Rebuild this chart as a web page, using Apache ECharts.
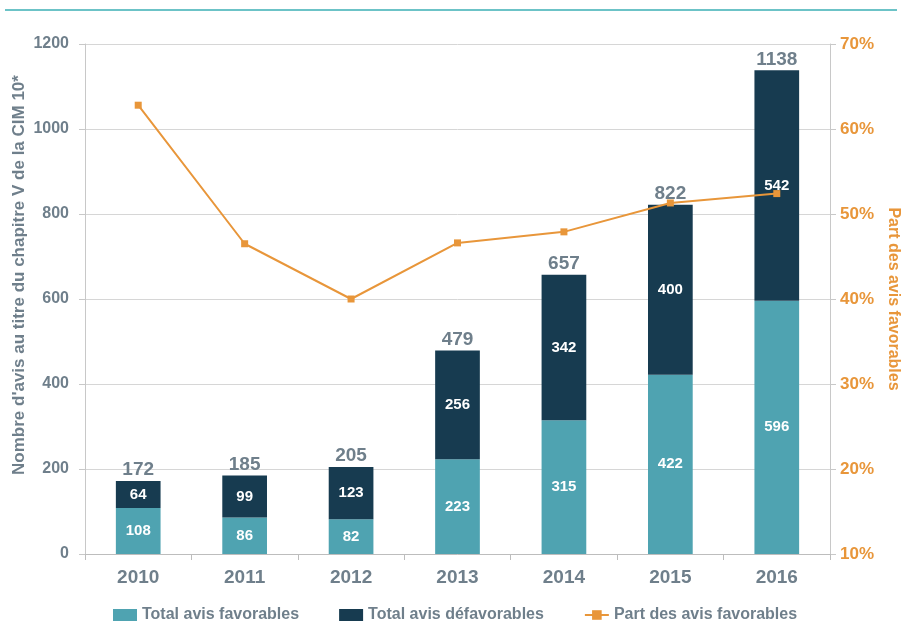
<!DOCTYPE html>
<html><head><meta charset="utf-8">
<script src="https://cdn.jsdelivr.net/npm/echarts@6/dist/echarts.min.js"></script>
<style>html,body{margin:0;padding:0;background:#fff}#c{width:903px;height:642px}</style>
</head><body><div id="c"></div>
<script>
const years = ['2010','2011','2012','2013','2014','2015','2016'];
const favorables = [108, 86, 82, 223, 315, 422, 596];
const defavorables = [64, 99, 123, 256, 342, 400, 542];
const totals = [172, 185, 205, 479, 657, 822, 1138];
const partFavorables = [62.8, 46.5, 40.0, 46.6, 47.9, 51.3, 52.4];
const leftAxisTitle = "Nombre d'avis au titre du chapitre V de la CIM 10*";
const rightAxisTitle = 'Part des avis favorables';

const FONT = '"Liberation Sans", Arial, sans-serif';
const GRAY = '#6f7f8b';
const ORANGE = '#e8963a';
const chart = echarts.init(document.getElementById('c'));
chart.setOption({
  animation: false,
  textStyle: { fontFamily: FONT },
  graphic: [
    { type: 'line', shape: { x1: 5, y1: 10, x2: 897, y2: 10 }, style: { stroke: '#6cc3c7', lineWidth: 2 } },
    { type: 'text', x: 19, y: 275, rotation: Math.PI / 2,
      style: { text: leftAxisTitle, fill: GRAY, font: 'bold 17px ' + FONT, align: 'center', verticalAlign: 'middle' } }
  ],
  grid: { left: 85, right: 73, top: 44, bottom: 88, outerBoundsMode: 'none' },
  legend: {
    bottom: 14, left: 108, itemGap: 40, itemWidth: 24, itemHeight: 12,
    data: [
      { name: 'Total avis favorables', icon: 'rect' },
      { name: 'Total avis défavorables', icon: 'rect' },
      { name: 'Part des avis favorables' }
    ],
    textStyle: { fontFamily: FONT, fontSize: 16, fontWeight: 'bold', color: GRAY }
  },
  xAxis: {
    type: 'category', data: years,
    axisLine: { lineStyle: { color: '#bdbdbd' } },
    axisTick: { show: true, length: 6, lineStyle: { color: '#bdbdbd' } },
    axisLabel: { fontFamily: FONT, fontSize: 19, fontWeight: 'bold', color: GRAY, margin: 14 }
  },
  yAxis: [
    {
      type: 'value', min: 0, max: 1200, interval: 200,
      axisLine: { show: true, lineStyle: { color: '#c8c8c8' } },
      axisTick: { show: true, length: 6, lineStyle: { color: '#c8c8c8' } },
      axisLabel: { fontFamily: FONT, fontSize: 16, fontWeight: 'bold', color: GRAY, margin: 16, formatter: v => String(v) },
      splitLine: { lineStyle: { color: '#d6d6d6' } }
    },
    {
      type: 'value', min: 10, max: 70, interval: 10,
      name: rightAxisTitle,
      nameLocation: 'middle', nameGap: 54, nameRotate: -90,
      nameTextStyle: { fontFamily: FONT, fontSize: 16, fontWeight: 'bold', color: ORANGE },
      axisLine: { show: true, lineStyle: { color: '#c8c8c8' } },
      axisTick: { show: true, length: 6, lineStyle: { color: '#c8c8c8' } },
      axisLabel: { fontFamily: FONT, fontSize: 17, fontWeight: 'bold', color: ORANGE, margin: 10, formatter: '{value}%' },
      splitLine: { show: false }
    }
  ],
  series: [
    {
      name: 'Total avis favorables', type: 'bar', stack: 's', data: favorables, barWidth: '42%',
      itemStyle: { color: '#4fa3b1' },
      label: { show: true, position: 'inside', color: '#fff', fontFamily: FONT, fontSize: 15, fontWeight: 'bold' }
    },
    {
      name: 'Total avis défavorables', type: 'bar', stack: 's', data: defavorables, barWidth: '42%',
      itemStyle: { color: '#173b50' },
      label: { show: true, position: 'inside', color: '#fff', fontFamily: FONT, fontSize: 15, fontWeight: 'bold' }
    },
    {
      name: 'totals', type: 'line', data: totals, symbol: 'circle', symbolSize: 1, showSymbol: true,
      lineStyle: { opacity: 0 }, itemStyle: { color: 'rgba(0,0,0,0)' },
      silent: true, z: 1,
      label: { show: true, position: 'top', distance: 1, color: GRAY, fontFamily: FONT, fontSize: 19, fontWeight: 'bold' }
    },
    {
      name: 'Part des avis favorables', type: 'line', yAxisIndex: 1, data: partFavorables,
      symbol: 'rect', symbolSize: 7,
      lineStyle: { color: ORANGE, width: 2 }, itemStyle: { color: ORANGE }, z: 5
    }
  ]
});
</script></body></html>
